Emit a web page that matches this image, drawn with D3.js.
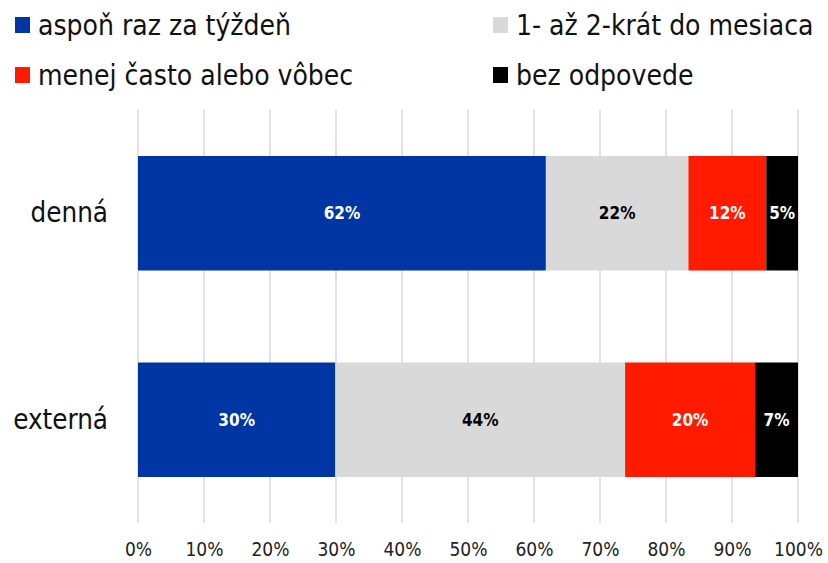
<!DOCTYPE html>
<html>
<head>
<meta charset="utf-8">
<script src="https://cdn.jsdelivr.net/npm/d3@7"></script>
<style>
  body { margin: 0; background: #fff; }
  svg text { font-family: "Liberation Sans Narrow", "DejaVu Sans Condensed", sans-serif; }
</style>
</head>
<body>
<div id="chart"></div>
<script>
// Catégories et séries
const categories = ["denná", "externá"];
const seriesNames = ["aspoň raz za týždeň", "1- až 2-krát do mesiaca", "menej často alebo vôbec", "bez odpovede"];
const weekly  = [61.8, 29.9];
const monthly = [21.6, 43.9];
const rarely  = [11.8, 19.7];
const noAnswer = [4.8, 6.5];
const ticks = [0, 10, 20, 30, 40, 50, 60, 70, 80, 90, 100];

const colors = ["#0036A3", "#D9D9D9", "#FF1A00", "#000000"];
const labelColors = ["#fff", "#000", "#fff", "#fff"];

const W = 828, H = 563;
const svg = d3.select("#chart").append("svg")
  .attr("width", W).attr("height", H);

const rows = categories.map((c, i) => ({
  cat: c,
  s0: weekly[i], s1: monthly[i], s2: rarely[i], s3: noAnswer[i]
}));
const keys = ["s0", "s1", "s2", "s3"];
const stack = d3.stack().keys(keys).offset(d3.stackOffsetExpand);
const layers = stack(rows);

const x = d3.scaleLinear().domain([0, 1]).range([138, 798]);
const y = d3.scaleBand().domain(categories).range([110, 523])
  .paddingInner(0.4455).paddingOuter(0.2228);

// grille verticale
svg.append("g").selectAll("line")
  .data(ticks)
  .enter().append("line")
  .attr("x1", d => x(d / 100)).attr("x2", d => x(d / 100))
  .attr("y1", 110).attr("y2", 523)
  .attr("stroke", "#D9D9D9").attr("stroke-width", 1.5);

// axe x (texte seulement)
const xAxis = svg.append("g")
  .attr("transform", "translate(0,523)")
  .call(d3.axisBottom(x).tickValues(ticks.map(t => t / 100))
    .tickFormat(d => Math.round(d * 100) + "%").tickSize(0).tickPadding(20));
xAxis.select(".domain").remove();
xAxis.selectAll("text")
  .attr("font-size", "19px").attr("fill", "#222")
  .style("font-family", "'Liberation Sans Narrow', 'DejaVu Sans Condensed', sans-serif");

// axe y
const yAxis = svg.append("g")
  .attr("transform", "translate(108,0)")
  .call(d3.axisLeft(y).tickSize(0).tickPadding(0));
yAxis.select(".domain").remove();
yAxis.selectAll("text")
  .attr("font-size", "27.5px").attr("fill", "#111")
  .style("font-family", "'Liberation Sans Narrow', 'DejaVu Sans Condensed', sans-serif");

// barres
const groups = svg.append("g").selectAll("g")
  .data(layers)
  .enter().append("g")
  .attr("fill", (d, i) => colors[i]);

groups.selectAll("rect")
  .data(d => d)
  .enter().append("rect")
  .attr("x", d => x(d[0]))
  .attr("width", d => x(d[1]) - x(d[0]))
  .attr("y", d => y(d.data.cat))
  .attr("height", y.bandwidth());

// étiquettes de valeurs
layers.forEach((layer, i) => {
  svg.append("g").selectAll("text")
    .data(layer)
    .enter().append("text")
    .attr("x", d => (x(d[0]) + x(d[1])) / 2)
    .attr("y", d => y(d.data.cat) + y.bandwidth() / 2)
    .attr("dy", "0.35em")
    .attr("text-anchor", "middle")
    .attr("font-size", "17px")
    .attr("font-weight", "700")
    .attr("fill", labelColors[i])
    .text(d => Math.round(d.data[layer.key]) + "%");
});

// légende
const legendPos = [
  { x: 15, y: 25 }, { x: 493, y: 25 },
  { x: 15, y: 75 }, { x: 493, y: 75 }
];
const legend = svg.append("g").selectAll("g")
  .data(seriesNames)
  .enter().append("g")
  .attr("transform", (d, i) => `translate(${legendPos[i].x},${legendPos[i].y})`);
legend.append("rect")
  .attr("x", 0).attr("y", -8).attr("width", 15).attr("height", 16)
  .attr("fill", (d, i) => colors[i]);
legend.append("text")
  .attr("x", 23).attr("dy", "0.35em")
  .attr("font-size", "28px").attr("fill", "#111")
  .text(d => d);
</script>
</body>
</html>
